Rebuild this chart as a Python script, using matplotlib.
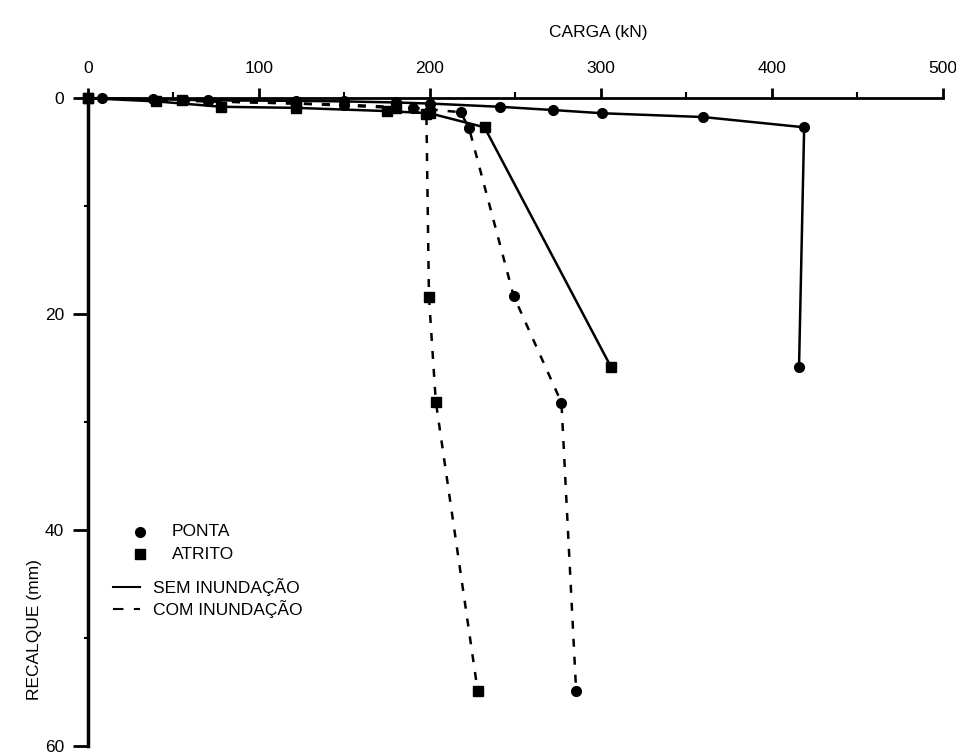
import numpy as np
import matplotlib
matplotlib.use("Agg")
import matplotlib.pyplot as plt
from matplotlib.ticker import MultipleLocator

plt.rcParams['font.family'] = ['Liberation Sans', 'DejaVu Sans']

## Dados ##
# sem inundacao - ponta
ponta_sem_carga = [0, 8, 38, 56, 70, 122, 150, 180, 200, 241, 272, 301, 360, 419, 416]
ponta_sem_rec = [0, 0, 0.1, 0.15, 0.2, 0.25, 0.3, 0.4, 0.5, 0.8, 1.1, 1.4, 1.75, 2.7, 24.9]
# sem inundacao - atrito
atrito_sem_carga = [0, 40, 78, 122, 175, 200, 232, 306]
atrito_sem_rec = [0, 0.3, 0.8, 0.9, 1.2, 1.4, 2.7, 24.9]
# com inundacao - atrito
atrito_com_carga = [0, 55, 122, 180, 198, 199.5, 203.5, 228]
atrito_com_rec = [0, 0.2, 0.5, 0.9, 1.5, 18.4, 28.1, 54.9]
# com inundacao - ponta
ponta_com_carga = [0, 70, 150, 190, 218, 223, 249, 277, 285.6]
ponta_com_rec = [0, 0.3, 0.6, 0.9, 1.3, 2.8, 18.3, 28.2, 54.9]

fig = plt.figure(figsize=(9.56, 7.55), dpi=100)
ax = fig.add_axes([0.092, 0.012, 0.894, 0.858])

lw = 1.8
dash = (3.2, 4)
ax.plot(ponta_sem_carga, ponta_sem_rec, '-', color='black', lw=lw,
        marker='o', ms=7, clip_on=False, zorder=3)
ax.plot(atrito_sem_carga, atrito_sem_rec, '-', color='black', lw=lw,
        marker='s', ms=6.5, clip_on=False, zorder=3)
ax.plot(atrito_com_carga, atrito_com_rec, '--', color='black', lw=lw, dashes=dash,
        marker='s', ms=6.5, clip_on=False, zorder=3)
ax.plot(ponta_com_carga, ponta_com_rec, '--', color='black', lw=lw, dashes=dash,
        marker='o', ms=7, clip_on=False, zorder=3)

ax.set_xlim(0, 500)
ax.set_ylim(60, 0)

ax.spines['right'].set_visible(False)
ax.spines['bottom'].set_visible(False)
ax.spines['top'].set_linewidth(2)
ax.spines['left'].set_linewidth(2.5)

ax.xaxis.tick_top()
ax.xaxis.set_label_position('top')
ax.xaxis.set_major_locator(MultipleLocator(100))
ax.xaxis.set_minor_locator(MultipleLocator(50))
ax.yaxis.set_major_locator(MultipleLocator(20))
ax.yaxis.set_minor_locator(MultipleLocator(10))
ax.tick_params(axis='x', which='major', direction='out', length=7, width=2,
               pad=9, labelsize=12.5)
ax.tick_params(axis='x', which='minor', direction='out', length=4, width=1.5)
ax.tick_params(axis='y', which='major', direction='out', length=11, width=2,
               pad=6, labelsize=12.5)
ax.tick_params(axis='y', which='minor', direction='out', length=3, width=1.5)

ax.set_xlabel('CARGA (kN)', fontsize=12.5)
ax.xaxis.set_label_coords(0.597, 1.094)
ax.set_ylabel('RECALQUE (mm)', fontsize=12.5)
ax.yaxis.set_label_coords(-0.054, 0.18)

# legenda desenhada a mao
tr = ax.transAxes
ax.plot([0.061], [0.331], 'o', color='black', ms=7, transform=tr, clip_on=False)
ax.text(0.098, 0.331, 'PONTA', transform=tr, va='center', ha='left', fontsize=12.5)
ax.plot([0.061], [0.296], 's', color='black', ms=6.5, transform=tr, clip_on=False)
ax.text(0.098, 0.296, 'ATRITO', transform=tr, va='center', ha='left', fontsize=12.5)
ax.plot([0.029, 0.061], [0.246, 0.246], '-', color='black', lw=1.5, transform=tr,
        clip_on=False)
ax.text(0.076, 0.246, 'SEM INUNDAÇÃO', transform=tr, va='center', ha='left', fontsize=12.5)
ax.plot([0.029, 0.061], [0.211, 0.211], '--', color='black', lw=1.5, dashes=(5, 5),
        transform=tr, clip_on=False)
ax.text(0.076, 0.211, 'COM INUNDAÇÃO', transform=tr, va='center', ha='left', fontsize=12.5)

fig.savefig('out.png', dpi=100)
